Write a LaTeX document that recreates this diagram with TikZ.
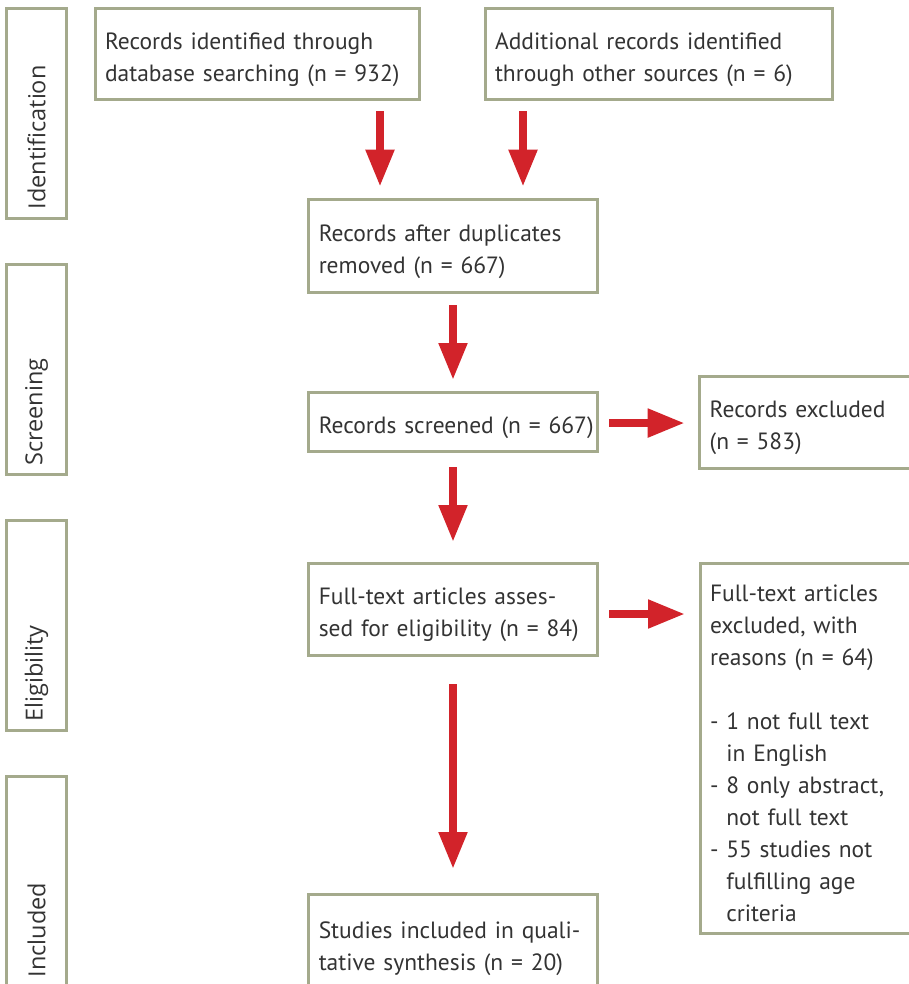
\documentclass[tikz,border=0pt]{standalone}
\usepackage{fontspec}
\setmainfont{PT Sans}
\newfontfamily\sidefont{Open Sans}
\usetikzlibrary{arrows.meta}
\definecolor{boxc}{RGB}{164,170,140}
\definecolor{arrc}{RGB}{210,35,42}
\definecolor{txtc}{RGB}{51,51,51}
\begin{document}
\begin{tikzpicture}[x=1pt,y=1pt,
  box/.style={draw=boxc, line width=3pt, outer sep=0pt, inner xsep=10pt, inner ysep=0pt,
    align=left, text=txtc, font=\fontsize{23.5}{32}\selectfont, lift/.default=28pt, lift},
  lift/.style={execute at begin node={\rule{0pt}{#1}}},
  sidebox/.style={draw=boxc, line width=3pt, outer sep=0pt, rotate=90,
    minimum width=210pt, minimum height=60pt, inner xsep=9pt, inner ysep=0pt,
    text width=192pt, align=left, text=txtc, font=\sidefont\fontsize{23.5}{26}\selectfont},
  arr/.style={draw=arrc, line width=8pt, -{Triangle[length=37pt,width=27pt]}}]
\useasboundingbox (0,0) rectangle (909,-984);
\clip (0,0) rectangle (909,-984);
% side labels
\node[sidebox] (s1) at (36.5,-113.25) {Identification};
\node[sidebox] (s2) at (36.5,-369.6) {Screening};
\node[sidebox] (s3) at (36.5,-625.5) {Eligibility};
\node[sidebox] (s4) at (36.5,-881.5) {Included};
% boxes
\node[box, text width=304.5pt, minimum height=91pt] (b1) at (257.25,-54)
  {\mbox{Records identified through}\\\mbox{database searching (n = 932)}};
\node[box, text width=327pt, minimum height=91pt] (b2) at (658.5,-54)
  {\mbox{Additional records identified}\\\mbox{through other sources (n = 6)}};
\node[box, text width=268.5pt, minimum height=92.5pt] (b3) at (453,-245.75)
  {\mbox{Records after duplicates}\\\mbox{removed (n = 667)}};
\node[box, text width=268.5pt, minimum height=59.3pt] (b4) at (453,-421.65)
  {\mbox{Records screened (n = 667)}};
\node[box, text width=260pt, minimum height=92.7pt] (ex1) at (839.7,-422.35)
  {\mbox{Records excluded}\\\mbox{(n = 583)}};
\node[box, text width=268.5pt, minimum height=92pt] (b5) at (453,-609)
  {\mbox{Full-text articles asses-}\\\mbox{sed for eligibility (n = 84)}};
\node[box, text width=260pt, minimum height=370pt] (ex2) at (840,-748)
  {\mbox{Full-text articles}\\\mbox{excluded, with}\\\mbox{reasons (n = 64)}\\[32pt]
   \mbox{- 1 not full text}\\\mbox{\hphantom{-\ }in English}\\
   \mbox{- 8 only abstract,}\\\mbox{\hphantom{-\ }not full text}\\
   \mbox{- 55 studies not}\\\mbox{\hphantom{-\ }fulfilling age}\\\mbox{\hphantom{-\ }criteria}};
\node[box, lift=32pt, text width=268.5pt, minimum height=92.5pt] (b6) at (453,-940.75)
  {\mbox{Studies included in quali-}\\\mbox{tative synthesis (n = 20)}};
% arrows
\draw[arr, shorten <=12pt, shorten >=12.8pt] ([xshift=-39.5pt]b1.south east) -- ([xshift=-39.5pt]b1.south east |- b3.north);
\draw[arr, shorten <=12pt, shorten >=12.8pt] ([xshift=38pt]b2.south west) -- ([xshift=38pt]b2.south west |- b3.north);
\draw[arr, shorten <=13pt, shorten >=12pt] (b3.south) -- (b4.north);
\draw[arr, shorten <=12pt, shorten >=15pt] ([yshift=-1.4pt]b4.east) -- ([yshift=-1.4pt]b4.east -| ex1.west);
\draw[arr, shorten <=15.7pt, shorten >=21pt] (b4.south) -- (b5.north);
\draw[arr, shorten <=12pt, shorten >=15pt] ([yshift=-5pt]b5.east) -- ([yshift=-5pt]b5.east -| ex2.west);
\draw[arr, shorten <=29pt, shorten >=25.5pt] (b5.south) -- (b6.north);
\end{tikzpicture}
\end{document}
